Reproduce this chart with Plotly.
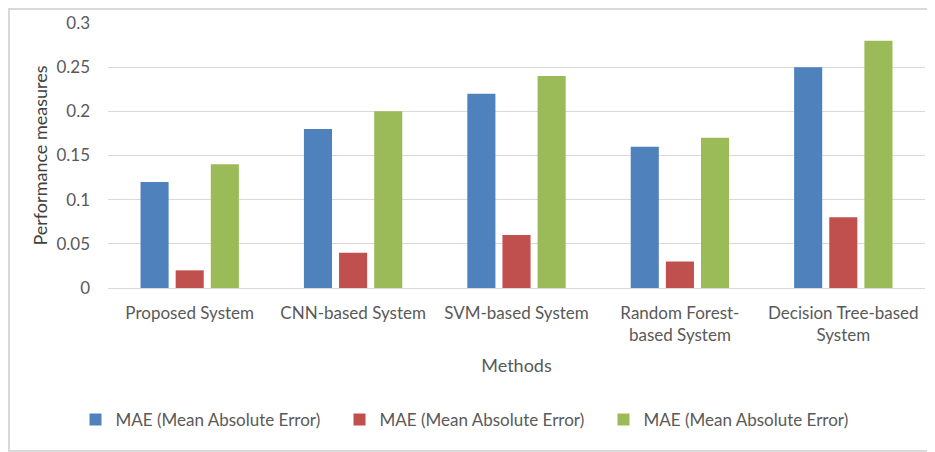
import plotly.graph_objects as go

# values
methods = ["Proposed System", "CNN-based System", "SVM-based System",
           "Random Forest-<br>based System", "Decision Tree-based<br>System"]
series_names = ["MAE (Mean Absolute Error)", "MAE (Mean Absolute Error)",
                "MAE (Mean Absolute Error)"]
series_1 = [0.12, 0.18, 0.22, 0.16, 0.25]
series_2 = [0.02, 0.04, 0.06, 0.03, 0.08]
series_3 = [0.14, 0.20, 0.24, 0.17, 0.28]
colors = ["#4F81BD", "#C0504D", "#9BBB59"]

# the page body keeps its default 8px margin, so the figure is a bit smaller
W, H = 927, 444
ml, mr, mt, mb = 100, 10, 15, 164

fig = go.Figure()
for name, vals, col in zip(series_names, [series_1, series_2, series_3], colors):
    fig.add_trace(go.Bar(x=methods, y=vals, name=name, marker_color=col,
                         marker_line_width=0))

pw = W - ml - mr
ph = H - mt - mb
# light grey frame around the whole chart
fig.add_shape(type="rect", xref="paper", yref="paper",
              x0=-(ml - 1) / pw, x1=1 + (mr - 1) / pw,
              y0=-(mb - 1) / ph, y1=1 + (mt - 1) / ph,
              line=dict(color="#D9D9D9", width=2), layer="below")

fig.update_xaxes(title_text="Methods", title_standoff=15, automargin=False,
                 showline=False, ticks="", ticklabelstandoff=13,
                 tickfont=dict(size=17, color="#595959"),
                 title_font=dict(size=18, color="#595959"))
fig.update_yaxes(title_text="Performance measures", range=[0, 0.3], dtick=0.05,
                 tickformat="~g", showgrid=True, gridcolor="#D9D9D9", gridwidth=1,
                 zeroline=True, zerolinecolor="#D9D9D9", zerolinewidth=1,
                 ticks="", ticklabelstandoff=17, automargin=False,
                 tickfont=dict(size=17, color="#595959"),
                 title_font=dict(size=18, color="#404040"), title_standoff=4)

fig.update_layout(
    width=W, height=H,
    margin=dict(l=ml, r=mr, t=mt, b=mb, autoexpand=False),
    barmode="group", bargap=0.355, bargroupgap=0.2,
    plot_bgcolor="white", paper_bgcolor="white",
    font=dict(family="Lato, 'Open Sans', sans-serif", color="#595959"),
    showlegend=True,
    legend=dict(orientation="h", x=0.5, xanchor="center", xref="container",
                y=0.072, yanchor="middle", yref="container",
                bgcolor="rgba(0,0,0,0)",
                font=dict(size=17, color="#595959"), itemwidth=30,
                traceorder="normal", entrywidth=219, entrywidthmode="pixels"),
)

fig.write_html("out.html")
